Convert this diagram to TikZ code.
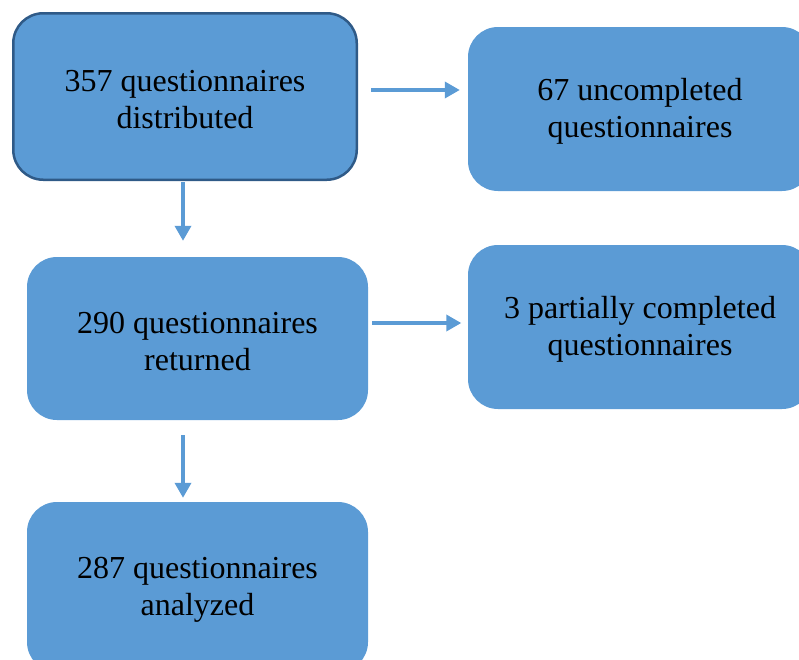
\documentclass[tikz,border=0pt]{standalone}
\usepackage{fontspec}
\setmainfont{Liberation Serif}
\usetikzlibrary{arrows.meta}
\definecolor{boxblue}{HTML}{5B9BD5}
\definecolor{boxedge}{HTML}{2F5A87}
\newcommand{\lift}{\rule{0pt}{27pt}}
\begin{document}
\begin{tikzpicture}[x=1pt,y=-1pt,
 box/.style={fill=boxblue,rounded corners=30pt,inner sep=0pt,align=center,font=\fontsize{32}{37.5}\selectfont},
 arr/.style={draw=boxblue,line width=3.5pt,-{Triangle[length=15pt,width=16pt]}}]
 \useasboundingbox (0,0) rectangle (799,659);
 \clip (0,0) rectangle (799,659);
 \node[box,draw=boxedge,line width=2.5pt,minimum width=343.5pt,minimum height=166.5pt] (dist) at (185,96.5) {\lift357 questionnaires\\distributed};
 \node[box,minimum width=344pt,minimum height=164pt] (uncomp) at (640,109) {\lift67 uncompleted\\questionnaires};
 \node[box,minimum width=341pt,minimum height=163pt] (ret) at (197.5,338.5) {\lift290 questionnaires\\returned};
 \node[box,minimum width=344pt,minimum height=164pt] (partial) at (640,327) {\lift3 partially completed\\questionnaires};
 \node[box,minimum width=341pt,minimum height=170pt] (anal) at (197.5,587) {\lift287 questionnaires\\analyzed};
 \draw[arr,shorten <=13pt,shorten >=8pt] ([yshift=6.5pt]dist.east) -- ([yshift=19pt]uncomp.west);
 \draw[arr,shorten <=1pt,shorten >=16pt] ([xshift=-2pt]dist.south) -- ([xshift=-14.5pt]ret.north);
 \draw[arr,shorten <=4pt,shorten >=6.5pt] ([yshift=15.5pt]ret.east) -- ([yshift=4pt]partial.west);
 \draw[arr,shorten <=15pt,shorten >=4pt] ([xshift=-14.5pt]ret.south) -- ([xshift=-14.5pt]anal.north);
\end{tikzpicture}
\end{document}
